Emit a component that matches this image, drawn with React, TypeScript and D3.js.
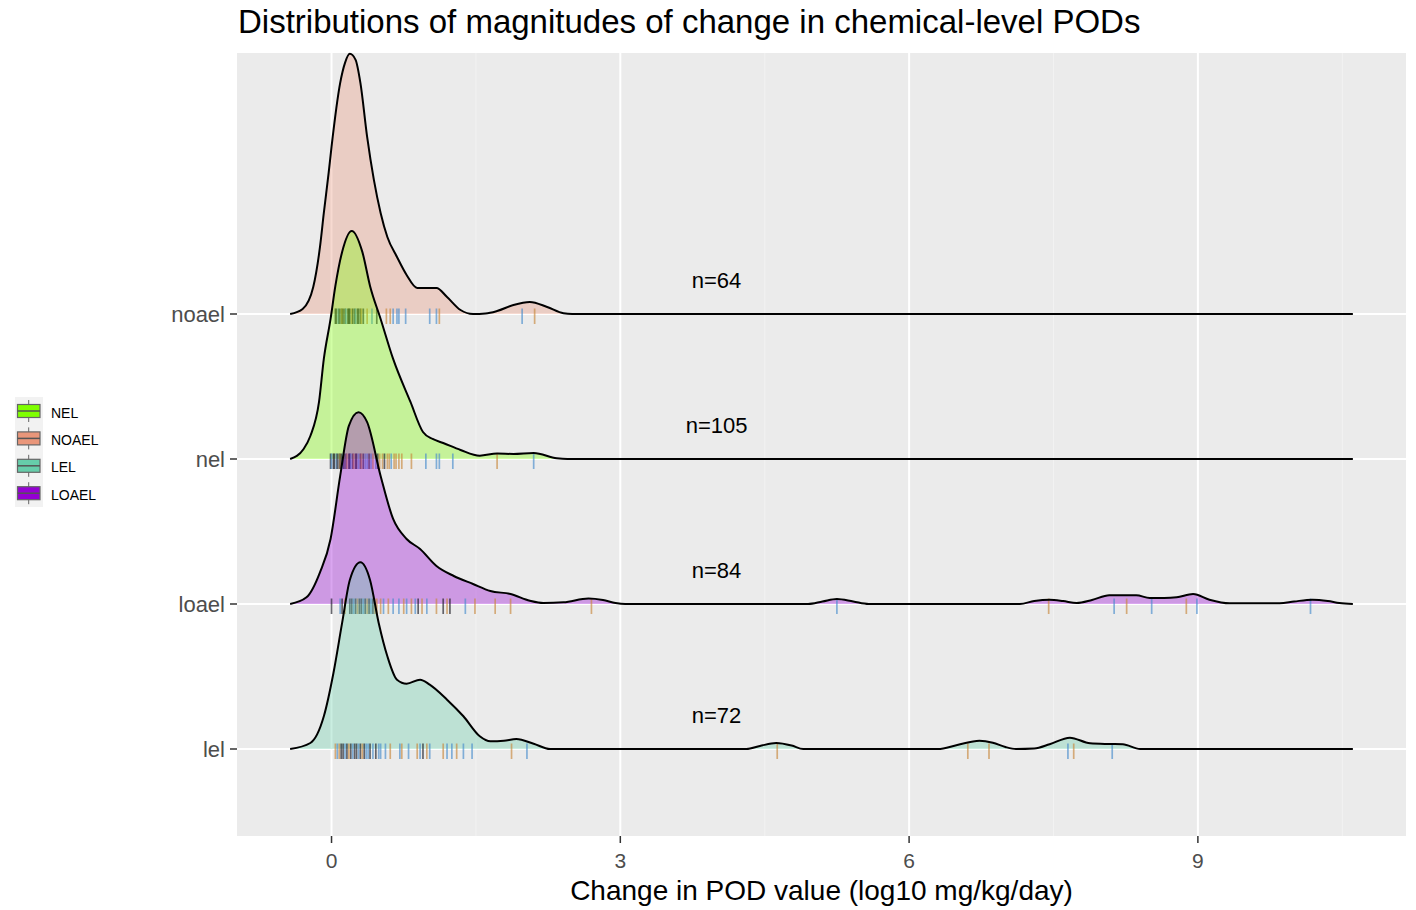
import React from "react";
import * as d3 from "d3";

// ---------- data ----------
const categories = ["lel", "loael", "nel", "noael"];
const countLabels = ["n=72", "n=84", "n=105", "n=64"];
const ridgeColors = ["#66CDAA", "#9400D3", "#7FFF00", "#E9967A"];

const legendLabels = ["NEL", "NOAEL", "LEL", "LOAEL"];
const legendColors = ["#7FFF00", "#E9967A", "#66CDAA", "#9400D3"];

const xTicks = [0, 3, 6, 9];
const xMinorTicks = [1.5, 4.5, 7.5, 10.5];

// density curves: [log10 change, density]
const lelDensity: [number, number][] = [
  [-0.43, 0], [-0.22, 0.06], [-0.08, 0.327], [0.02, 0.76], [0.11, 1.26], [0.19, 1.69], [0.3, 1.867],
  [0.4, 1.69], [0.49, 1.26], [0.58, 0.927], [0.68, 0.693], [0.78, 0.653], [0.92, 0.693], [1.02, 0.643],
  [1.2, 0.493], [1.37, 0.327], [1.54, 0.127], [1.65, 0.077], [1.79, 0.083], [1.92, 0.1], [2.1, 0.053],
  [2.27, 0], [4.31, 0], [4.45, 0.03], [4.62, 0.06], [4.78, 0.035], [4.9, 0], [6.3, 0], [6.5, 0.04],
  [6.73, 0.083], [6.87, 0.063], [7.0, 0.02], [7.11, 0], [7.3, 0.005], [7.46, 0.047], [7.67, 0.113],
  [7.88, 0.057], [8.08, 0.05], [8.22, 0.047], [8.4, 0], [10.61, 0],
];
const loaelDensity: [number, number][] = [
  [-0.43, 0], [-0.26, 0.067], [-0.12, 0.317], [-0.01, 0.65], [0.09, 1.28], [0.18, 1.78], [0.28, 1.917],
  [0.37, 1.817], [0.51, 1.28], [0.64, 0.85], [0.78, 0.65], [0.92, 0.55], [1.09, 0.38], [1.27, 0.28],
  [1.47, 0.2], [1.65, 0.13], [1.86, 0.1], [2.06, 0.033], [2.2, 0.01], [2.41, 0.017], [2.67, 0.055],
  [2.82, 0.04], [2.95, 0.01], [3.05, 0], [4.95, 0], [5.1, 0.025], [5.25, 0.05], [5.42, 0.025], [5.58, 0],
  [7.15, 0], [7.3, 0.03], [7.46, 0.043], [7.6, 0.03], [7.74, 0.01], [7.9, 0.04], [8.08, 0.087],
  [8.36, 0.087], [8.5, 0.06], [8.65, 0.06], [8.78, 0.067], [8.95, 0.1], [9.12, 0.043], [9.33, 0.007],
  [9.85, 0.007], [10.0, 0.025], [10.19, 0.043], [10.35, 0.03], [10.47, 0.01], [10.61, 0],
];
const nelDensity: [number, number][] = [
  [-0.43, 0], [-0.29, 0.1], [-0.22, 0.23], [-0.13, 0.57], [-0.08, 1.0], [-0.01, 1.4], [0.04, 1.73],
  [0.11, 2.07], [0.21, 2.28], [0.32, 2.07], [0.4, 1.73], [0.51, 1.4], [0.64, 1.0], [0.82, 0.57],
  [0.95, 0.27], [1.05, 0.2], [1.16, 0.16], [1.34, 0.09], [1.54, 0.033], [1.72, 0.055], [1.89, 0.05],
  [2.1, 0.06], [2.34, 0.007], [2.45, 0], [10.61, 0],
];
const noaelDensity: [number, number][] = [
  [-0.43, 0], [-0.3, 0.05], [-0.19, 0.27], [-0.12, 0.67], [-0.08, 1.01], [-0.03, 1.41], [0, 1.67],
  [0.09, 2.31], [0.14, 2.51], [0.19, 2.6], [0.25, 2.54], [0.3, 2.31], [0.37, 1.77], [0.44, 1.34],
  [0.51, 1.01], [0.58, 0.77], [0.68, 0.57], [0.78, 0.39], [0.89, 0.26], [1.0, 0.26], [1.09, 0.26],
  [1.2, 0.17], [1.34, 0.04], [1.47, 0], [1.6, 0.005], [1.72, 0.03], [1.89, 0.09], [2.06, 0.12],
  [2.24, 0.07], [2.41, 0.007], [2.5, 0], [10.61, 0],
];

// rug values and their colour classes (b = blue, o = orange, k = dark)
const lelRug = [
  0.04, 0.06, 0.08, 0.1, 0.12, 0.14, 0.16, 0.18, 0.2, 0.22, 0.24, 0.26, 0.28, 0.3, 0.32, 0.34, 0.36,
  0.38, 0.4, 0.43, 0.46, 0.49, 0.51, 0.56, 0.61, 0.71, 0.73, 0.8, 0.89, 0.92, 0.95, 0.99, 1.02, 1.16,
  1.2, 1.25, 1.3, 1.37, 1.46, 1.87, 2.03, 4.63, 6.61, 6.83, 7.65, 7.71, 8.11,
];
const lelRugClass = "obokkbkokbkkbkokbbkbkbbbobobobkobobbobbobooobob";
const loaelRug = [
  0.0, 0.09, 0.11, 0.14, 0.19, 0.21, 0.23, 0.25, 0.27, 0.29, 0.31, 0.33, 0.35, 0.37, 0.39, 0.41, 0.43,
  0.45, 0.47, 0.51, 0.54, 0.59, 0.64, 0.7, 0.75, 0.78, 0.83, 0.87, 0.9, 0.94, 0.99, 1.09, 1.16, 1.2,
  1.23, 1.39, 1.49, 1.7, 1.86, 2.7, 5.25, 7.45, 8.13, 8.26, 8.52, 8.88, 8.99, 10.17,
];
const loaelRugClass = "kbkokkbkokkbkokbkooobobbobobkobokokboooobobobobb";
const nelRug = [
  -0.01, 0.0, 0.02, 0.03, 0.05, 0.06, 0.08, 0.09, 0.1, 0.12, 0.13, 0.15, 0.16, 0.18, 0.19, 0.2, 0.22,
  0.23, 0.25, 0.26, 0.28, 0.3, 0.31, 0.33, 0.35, 0.37, 0.39, 0.41, 0.43, 0.46, 0.48, 0.5, 0.53, 0.55,
  0.58, 0.6, 0.62, 0.65, 0.67, 0.7, 0.73, 0.83, 0.98, 1.09, 1.12, 1.26, 1.72, 2.1,
];
const nelRugClass = "kbkkbkkokbkkokkbkokkbkokbbkbobkookoobooooobbbbob";
const noaelRug = [
  0.04, 0.05, 0.07, 0.08, 0.1, 0.11, 0.12, 0.14, 0.15, 0.17, 0.18, 0.19, 0.21, 0.22, 0.24, 0.25, 0.27,
  0.28, 0.3, 0.31, 0.33, 0.37, 0.42, 0.47, 0.57, 0.61, 0.64, 0.68, 0.7, 0.77, 1.02, 1.09, 1.12, 1.98, 2.11,
];
const noaelRugClass = "kkbkkokkbkkkokkbkkkokobkoobbbbbbobo";

const densities = [lelDensity, loaelDensity, nelDensity, noaelDensity];
const rugs = [lelRug, loaelRug, nelRug, noaelRug];
const rugClasses = [lelRugClass, loaelRugClass, nelRugClass, noaelRugClass];

// ---------- chart ----------
const W = 1416;
const H = 910;
const panel = { left: 237, right: 1406, top: 53, bottom: 836 };
const FONT = "'Liberation Sans', Arial, Helvetica, sans-serif";
const rugColor: Record<string, string> = {
  b: "rgba(70,140,205,0.65)",
  o: "rgba(200,135,60,0.65)",
  k: "rgba(25,25,35,0.65)",
};

export default function App() {
  const allX = densities.flat().map((d) => d[0]);
  const lo = d3.min(allX) as number;
  const hi = d3.max(allX) as number;
  const pad = (hi - lo) * 0.05;
  const x = d3.scaleLinear().domain([lo - pad, hi + pad]).range([panel.left, panel.right]);
  // categorical rows as index positions with ggplot-like expansion
  const y = d3.scaleLinear().domain([-0.6, categories.length - 1 + 1.8]).range([panel.bottom, panel.top]);
  const ridgeScale = 0.69; // rows per density unit

  const order = [3, 2, 1, 0]; // draw top ridge first

  return (
    <svg
      width={W}
      height={H}
      style={{ position: "absolute", left: 0, top: 0, background: "#ffffff" }}
      fontFamily={FONT}
    >
      <rect x={0} y={0} width={W} height={H} fill="#ffffff" />
      {/* title */}
      <text x={238} y={33} fontSize={33} fill="#000">
        Distributions of magnitudes of change in chemical-level PODs
      </text>

      {/* panel */}
      <rect
        x={panel.left}
        y={panel.top}
        width={panel.right - panel.left}
        height={panel.bottom - panel.top}
        fill="#EBEBEB"
      />
      {xMinorTicks.map((t) => (
        <line key={"mn" + t} x1={x(t)} x2={x(t)} y1={panel.top} y2={panel.bottom} stroke="#F2F2F2" strokeWidth={1} />
      ))}
      {xTicks.map((t) => (
        <line key={"mj" + t} x1={x(t)} x2={x(t)} y1={panel.top} y2={panel.bottom} stroke="#FFFFFF" strokeWidth={2} />
      ))}
      {categories.map((c, i) => (
        <line key={"hg" + c} x1={panel.left} x2={panel.right} y1={y(i)} y2={y(i)} stroke="#FFFFFF" strokeWidth={2} />
      ))}

      {/* ridges */}
      {order.map((i) => {
        const base = y(i);
        const area = d3
          .area<[number, number]>()
          .x((d) => x(d[0]))
          .y0(base)
          .y1((d) => y(i + d[1] * ridgeScale))
          .curve(d3.curveMonotoneX);
        const line = d3
          .line<[number, number]>()
          .x((d) => x(d[0]))
          .y((d) => y(i + d[1] * ridgeScale))
          .curve(d3.curveMonotoneX);
        return (
          <g key={"r" + categories[i]}>
            <path d={area(densities[i]) || ""} fill={ridgeColors[i]} fillOpacity={0.35} />
            {rugs[i].map((v, j) => (
              <line
                key={j}
                x1={x(v)}
                x2={x(v)}
                y1={base - 5.5}
                y2={base + 10}
                stroke={rugColor[rugClasses[i][j] || "k"]}
                strokeWidth={1.7}
              />
            ))}
            <path d={line(densities[i]) || ""} fill="none" stroke="#000" strokeWidth={2} />
          </g>
        );
      })}

      {/* n labels */}
      {categories.map((c, i) => (
        <text
          key={"n" + c}
          x={x(4)}
          y={y(i + 0.228)}
          fontSize={22}
          textAnchor="middle"
          dominantBaseline="central"
          fill="#000"
        >
          {countLabels[i]}
        </text>
      ))}

      {/* y axis */}
      {categories.map((c, i) => (
        <g key={"ya" + c}>
          <line x1={panel.left - 7} x2={panel.left} y1={y(i)} y2={y(i)} stroke="#333" strokeWidth={1.5} />
          <text
            x={panel.left - 12}
            y={y(i)}
            fontSize={22}
            textAnchor="end"
            dominantBaseline="central"
            fill="#4D4D4D"
          >
            {c}
          </text>
        </g>
      ))}

      {/* x axis */}
      {xTicks.map((t) => (
        <g key={"xa" + t}>
          <line x1={x(t)} x2={x(t)} y1={panel.bottom} y2={panel.bottom + 7} stroke="#333" strokeWidth={1.5} />
          <text x={x(t)} y={868} fontSize={21} textAnchor="middle" fill="#4D4D4D">
            {t}
          </text>
        </g>
      ))}
      <text x={(panel.left + panel.right) / 2} y={900} fontSize={28} textAnchor="middle" fill="#000">
        Change in POD value (log10 mg/kg/day)
      </text>

      {/* legend */}
      <rect x={15} y={397} width={28} height={110} fill="#F2F2F2" />
      {legendLabels.map((lab, k) => {
        const cy = 411 + k * 27.4;
        return (
          <g key={"lg" + lab}>
            <line x1={28.7} x2={28.7} y1={cy - 11} y2={cy + 11} stroke="#666" strokeWidth={1} />
            <rect x={17.5} y={cy - 6.5} width={22.5} height={13} fill={legendColors[k]} stroke="#666" strokeWidth={1.2} />
            <line x1={17.5} x2={40} y1={cy} y2={cy} stroke="#555" strokeWidth={1.5} />
            <text x={51} y={cy + 1.5} fontSize={14} dominantBaseline="central" fill="#000">
              {lab}
            </text>
          </g>
        );
      })}
    </svg>
  );
}
